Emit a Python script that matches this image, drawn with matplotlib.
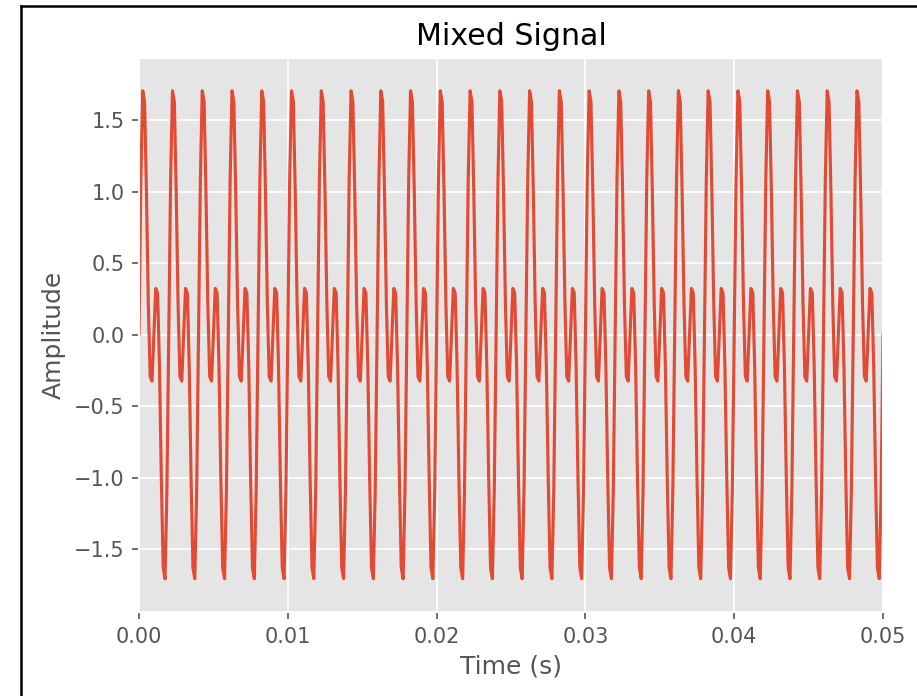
import numpy as np
import matplotlib
matplotlib.use('Agg')
from matplotlib import pyplot as plt
from matplotlib.lines import Line2D

freqs = [500, 1000]
amps = [1.0, 1.0]
sample_rate = 8000
duration = 0.05

t = np.linspace(0, duration, int(duration * sample_rate) + 1)
signal = sum(a * np.sin(2 * np.pi * f * t) for f, a in zip(freqs, amps))

plt.style.use('ggplot')

fig = plt.figure(figsize=(917 / 150, 696 / 150), dpi=150)
ax = fig.add_axes([139 / 917, 1 - 612 / 696, 744 / 917, 554.5 / 696])

ax.plot(t, signal)
ax.set_xlim(0, duration)
ax.set_ylim(-1.94, 1.94)
ax.set_title('Mixed Signal', color='black')
ax.set_xlabel('Time (s)')
ax.set_ylabel('Amplitude')

# screenshot frame around the figure
fig.add_artist(Line2D([21 / 917, 21 / 917], [0, 1 - 6 / 696], color='black', lw=1.2))
fig.add_artist(Line2D([21 / 917, 1], [1 - 6 / 696, 1 - 6 / 696], color='black', lw=1.2))

fig.savefig('out.png', dpi=150)
